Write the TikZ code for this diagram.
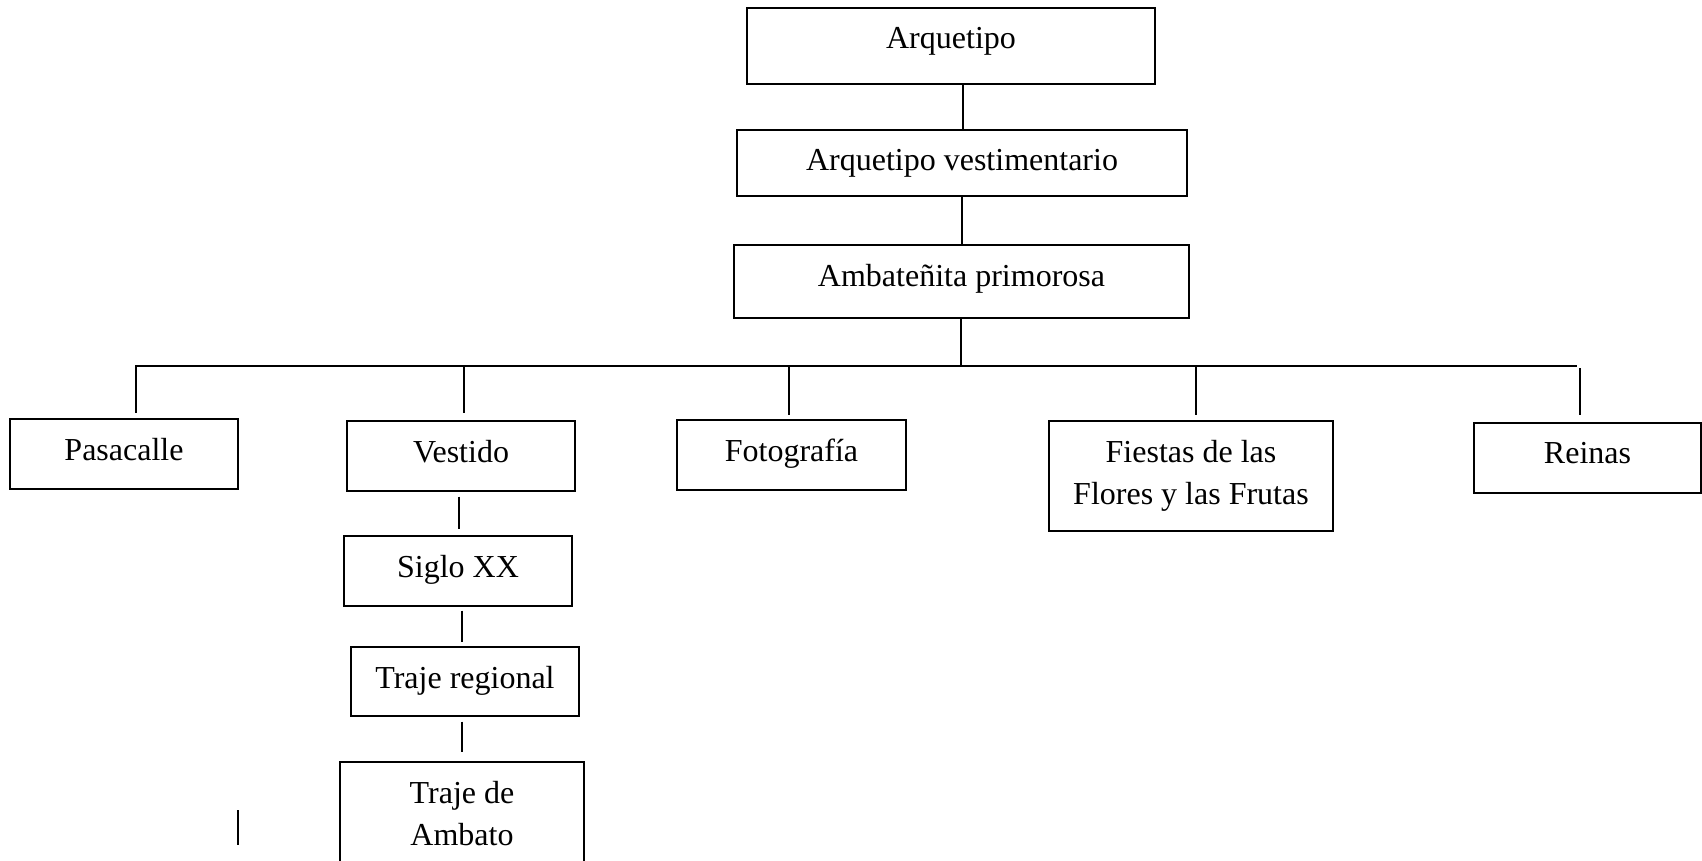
\documentclass[tikz,border=0pt]{standalone}
\usepackage{fontspec}
\setmainfont{Liberation Serif}
\newcommand\orgbox[6]{%
  \node[box, minimum width={#4-#2}, minimum height={#5-#3}] (#1) at ({(#2+#4)/2},{(#3+#5)/2}) {};
  \node[txt] (#1t) at ({(#2+#4)/2},{#3+19}) {#6};}
\begin{document}
\begin{tikzpicture}[x=1pt,y=-1pt,
  box/.style={draw=black, line width=1.4pt, rectangle, inner sep=0pt},
  txt/.style={anchor=north, inner sep=0pt, align=center, font=\fontsize{32}{42}\selectfont},
  conn/.style={draw=black, line width=1.4pt}]
\useasboundingbox (0,0) rectangle (1702,861);
\clip (0,0) rectangle (1702,861);

\orgbox{arq}{747}{8}{1155}{84}{Arquetipo}
\orgbox{arqv}{737}{130}{1187}{196}{Arquetipo vestimentario}
\orgbox{amb}{734}{245}{1189}{318}{Ambateñita primorosa}
\orgbox{pas}{10}{419}{238}{489}{Pasacalle}
\orgbox{ves}{347}{421}{575}{491}{Vestido}
\orgbox{fot}{677}{420}{906}{490}{Fotografía}
\orgbox{fie}{1049}{421}{1333}{531}{Fiestas de las\\Flores y las Frutas}
\orgbox{rei}{1474}{423}{1701}{493}{Reinas}
\orgbox{sig}{344}{536}{572}{606}{Siglo XX}
\orgbox{trr}{351}{647}{579}{716}{Traje regional}
\orgbox{ata}{340}{762}{584}{872}{Traje de\\Ambato}

% columns
\coordinate (c1) at (963,0);
\coordinate (c2) at (962,0);
\coordinate (c3) at (961,0);
\coordinate (bL) at (135,366);
\coordinate (bR) at (1577,366);
\coordinate (d1) at (136,0);
\coordinate (d2) at (464,0);
\coordinate (d3) at (789,0);
\coordinate (d4) at (1196,0);
\coordinate (d5) at (1580,0);
\coordinate (v1) at (459,0);
\coordinate (v2) at (462,0);

\draw[conn] (arq.south -| c1) -- (arqv.north -| c1);
\draw[conn] (arqv.south -| c2) -- (amb.north -| c2);
\draw[conn] (amb.south -| c3) -- (bL -| c3);
\draw[conn] (bL) -- (bR);

\draw[conn, shorten >=5pt] (bL -| d1) -- (pas.north -| d1);
\draw[conn, shorten >=7pt] (bL -| d2) -- (ves.north -| d2);
\draw[conn, shorten >=4pt] (bL -| d3) -- (fot.north -| d3);
\draw[conn, shorten >=5pt] (bL -| d4) -- (fie.north -| d4);
\draw[conn, shorten <=2pt, shorten >=7pt] (bL -| d5) -- (rei.north -| d5);

\draw[conn, shorten <=5pt, shorten >=6pt] (ves.south -| v1) -- (sig.north -| v1);
\draw[conn, shorten <=4pt, shorten >=4pt] (sig.south -| v2) -- (trr.north -| v2);
\draw[conn, shorten <=5pt, shorten >=9pt] (trr.south -| v2) -- (ata.north -| v2);

\coordinate (s1) at (238,810);
\coordinate (s2) at (238,845);
\draw[conn] (s1) -- (s2);
\end{tikzpicture}
\end{document}
